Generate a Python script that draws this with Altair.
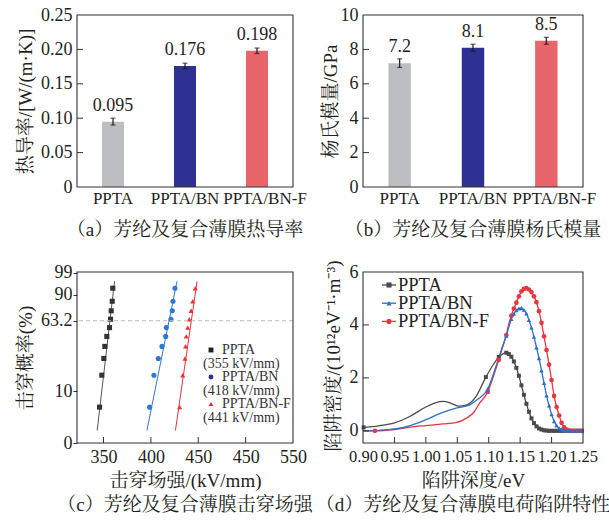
import math
import altair as alt
import pandas as pd

FONT = "Liberation Serif, Noto Serif CJK SC, Noto Sans CJK SC, serif"
INK = "#231f20"
FRAME = "#333333"

# ---------------- data ----------------
cats = ["PPTA", "PPTA/BN", "PPTA/BN-F"]
bar_colors = ["#bdbec2", "#2e3192", "#e8656b"]
tc_vals = [0.095, 0.176, 0.198]
tc_err = [0.005, 0.004, 0.004]
ym_vals = [7.2, 8.1, 8.5]
ym_err = [0.25, 0.2, 0.2]
a_yticks = [0, 0.05, 0.10, 0.15, 0.20, 0.25]
b_yticks = [0, 2, 4, 6, 8, 10]

# (c) Weibull breakdown
c_prob = [6.2, 16.2, 26.0, 35.7, 45.5, 55.2, 65.0, 74.6, 84.4, 94.0]
c_E_ppta = [345.8, 348.2, 350.3, 351.4, 353.5, 356.3, 357.4, 358.1, 359.2, 359.8]
c_E_bn = [398.7, 403.2, 407.8, 411.7, 415.6, 416.3, 421.2, 422.6, 423.3, 425.4]
c_E_bnf = [430.4, 433.6, 436.0, 436.6, 437.3, 438.9, 440.5, 442.4, 444.2, 446.8]
c_fit_prob = [3.0, 97.0]
c_fit_ppta = [343.3, 361.6]
c_fit_bn = [395.8, 427.6]
c_fit_bnf = [425.9, 448.7]
c_xticks = [350, 400, 450, 500, 550]
c_xtick_labels = ["350", "400", "450", "450", "550"]
c_yprob_ticks = [99, 90, 63.2, 10]
c_ybottom_label = "0"
c_ref_prob = 63.2
c_strength = ["(355 kV/mm)", "(418 kV/mm)", "(441 kV/mm)"]

# (d) trap distribution: smooth curve points and marker points
d_ppta_line_x = [0.900, 0.925, 0.950, 0.975, 1.000, 1.015, 1.028, 1.040, 1.053, 1.065, 1.080, 1.0955, 1.110, 1.116, 1.122]
d_ppta_line_y = [0.13, 0.19, 0.30, 0.55, 0.90, 1.06, 1.11, 1.04, 0.93, 0.98, 1.30, 2.03, 2.60, 2.79, 2.90]
d_bn_line_x = [0.900, 0.925, 0.950, 0.975, 1.000, 1.022, 1.048, 1.069, 1.082, 1.0985, 1.109, 1.116, 1.122, 1.128, 1.132]
d_bn_line_y = [0.00, 0.02, 0.07, 0.20, 0.42, 0.65, 0.86, 0.97, 1.18, 1.58, 2.25, 2.75, 3.20, 3.59, 3.92]
d_bnf_line_x = [0.900, 0.919, 0.950, 0.975, 1.000, 1.027, 1.048, 1.064, 1.077, 1.085, 1.0985, 1.108, 1.116, 1.122, 1.128, 1.132]
d_bnf_line_y = [0.00, 0.00, 0.05, 0.14, 0.20, 0.26, 0.31, 0.47, 0.72, 1.03, 1.47, 2.10, 2.68, 3.15, 3.62, 4.05]

d_ppta_sparse_x = [0.901, 1.0955, 1.116]
d_ppta_sparse_y = [0.13, 2.03, 2.79]
d_bn_sparse_x = [1.0985, 1.128]
d_bn_sparse_y = [1.58, 3.59]
d_bnf_sparse_x = [0.919, 1.0985, 1.116, 1.128]
d_bnf_sparse_y = [0.00, 1.47, 2.68, 3.62]

d_ppta_dense_x = [1.128, 1.132, 1.136, 1.140, 1.144, 1.148, 1.152, 1.156, 1.160, 1.164, 1.168,
                  1.172, 1.176, 1.180, 1.184, 1.188, 1.192, 1.196, 1.200, 1.204, 1.208, 1.212,
                  1.216, 1.220, 1.224, 1.228, 1.232, 1.236, 1.240, 1.244, 1.248]
d_ppta_dense_y = [2.95, 2.90, 2.80, 2.62, 2.38, 2.08, 1.72, 1.36, 1.02, 0.72, 0.47,
                  0.29, 0.17, 0.09, 0.05, 0.02, 0.01, 0.00, 0.00, 0.00, 0.00, 0.00,
                  0.00, 0.00, 0.00, 0.00, 0.00, 0.00, 0.00, 0.00, 0.00]
d_bn_dense_x = [1.136, 1.140, 1.144, 1.148, 1.152, 1.156, 1.160, 1.164, 1.168, 1.172, 1.176,
                1.180, 1.184, 1.188, 1.192, 1.196, 1.200, 1.204, 1.208, 1.212, 1.216, 1.220,
                1.224, 1.228, 1.232, 1.236, 1.240, 1.244, 1.248]
d_bn_dense_y = [4.22, 4.42, 4.55, 4.62, 4.64, 4.57, 4.43, 4.18, 3.90, 3.55, 3.15,
                2.74, 2.28, 1.80, 1.33, 0.95, 0.62, 0.36, 0.20, 0.10, 0.05, 0.02,
                0.01, 0.00, 0.00, 0.00, 0.00, 0.00, 0.00]
d_bnf_dense_x = [1.136, 1.140, 1.144, 1.148, 1.152, 1.156, 1.160, 1.164, 1.168, 1.172, 1.176,
                 1.180, 1.184, 1.188, 1.192, 1.196, 1.200, 1.204, 1.208, 1.212, 1.216, 1.220,
                 1.224, 1.228, 1.232, 1.236, 1.240, 1.244, 1.248]
d_bnf_dense_y = [4.35, 4.62, 4.84, 5.08, 5.27, 5.36, 5.39, 5.34, 5.24, 5.08, 4.86,
                 4.52, 4.08, 3.57, 3.05, 2.50, 1.92, 1.32, 0.90, 0.58, 0.30, 0.13,
                 0.05, 0.01, 0.00, 0.00, 0.00, 0.00, 0.00]
d_xticks = [0.90, 0.95, 1.00, 1.05, 1.10, 1.15, 1.20, 1.25]
d_yticks = [0, 2, 4, 6]

captions = ["（a）芳纶及复合薄膜热导率", "（b）芳纶及复合薄膜杨氏模量",
            "（c）芳纶及复合薄膜击穿场强", "（d）芳纶及复合薄膜电荷陷阱特性"]

# ---------------- helpers ----------------
W_L, W_R = 216, 220
H_T, H_B = 172, 171


def one(text):
    return pd.DataFrame({"t": [text]})


def caption_layer(text, w, y, dx=0):
    return alt.Chart(one(text)).mark_text(font=FONT, fontSize=19, color=INK, baseline="middle",
                                          align="center").encode(
        x=alt.value(w / 2 + dx), y=alt.value(y), text="t:N")


def frame_layer(w, h):
    return alt.Chart(one("f")).mark_rect(fill=None, stroke=FRAME, strokeWidth=1.1).encode(
        x=alt.value(0), x2=alt.value(w), y=alt.value(0), y2=alt.value(h))


def bar_panel(vals, errs, fmt, yticks, ytitle, ylabel_expr, cap, w, title_x):
    df = pd.DataFrame({"cat": cats, "v": vals, "lo": [v - e for v, e in zip(vals, errs)],
                       "hi": [v + e for v, e in zip(vals, errs)],
                       "lab": [format(v, fmt) for v in vals]})
    xscale = alt.Scale(domain=cats, paddingInner=0.694, paddingOuter=0.347)
    xax = alt.Axis(title=None, labelAngle=0, ticks=False, tickSize=0, domain=False,
                   labelPadding=3, labelFontSize=17, labelOverlap=False, labelBound=False,
                   labelOffset={"condition": {"test": f"datum.value === '{cats[2]}'", "value": 8},
                                "value": 0})
    ydom = [yticks[0], yticks[-1]]
    yscale = alt.Scale(domain=ydom, nice=False, zero=True)
    yax = alt.Axis(values=yticks, labelExpr=ylabel_expr, title=ytitle, titleX=title_x,
                   titleY=H_T / 2, titleBaseline="middle", titleAngle=270, titleFontSize=19,
                   labelFontSize=18, ticks=False, tickSize=0, labelPadding=5, domain=False, grid=False,
                   labelOverlap=False, labelBound=False, labelFlush=False)

    def X():
        return alt.X("cat:N", sort=cats, scale=xscale, axis=xax)

    def Y(f):
        return alt.Y(f, scale=yscale, axis=yax)

    bars = alt.Chart(df).mark_bar().encode(
        x=X(), y=Y("v:Q"),
        color=alt.Color("cat:N", scale=alt.Scale(domain=cats, range=bar_colors), legend=None))
    err = alt.Chart(df).mark_rule(color="#1a1a1a", strokeWidth=1.2).encode(
        x=X(), y=Y("lo:Q"), y2="hi:Q")
    cap_lo = alt.Chart(df).mark_tick(color="#1a1a1a", size=5, thickness=1.2).encode(x=X(), y=Y("lo:Q"))
    cap_hi = alt.Chart(df).mark_tick(color="#1a1a1a", size=5, thickness=1.2).encode(x=X(), y=Y("hi:Q"))
    labels = alt.Chart(df).mark_text(font=FONT, fontSize=18, color=INK, dy=-16, baseline="middle").encode(
        x=X(), y=Y("v:Q"), text="lab:N")
    ticks = alt.Chart(pd.DataFrame({"t": yticks[1:-1]})).mark_rule(color=FRAME, strokeWidth=1).encode(
        y=Y("t:Q"), x=alt.value(0), x2=alt.value(6))
    return alt.layer(bars, err, cap_lo, cap_hi, labels, ticks, frame_layer(w, H_T),
                     caption_layer(cap, w, H_T + 43)).properties(width=w, height=H_T)


# ---------------- (a) and (b) ----------------
chart_a = bar_panel(tc_vals, tc_err, ".3f", a_yticks, "热导率/[W/(m·K)]",
                    "datum.value == 0 ? '0' : format(datum.value, '.2f')", captions[0], W_L, -52)
chart_b = bar_panel(ym_vals, ym_err, ".1f", b_yticks, "杨氏模量/GPa",
                    "format(datum.value, 'd')", captions[1], W_R, -33)


# ---------------- (c) ----------------
def weib(p):
    return math.log(-math.log(1 - p / 100.0))


c_names = cats
c_pt_colors = ["#333333", "#2d78d2", "#eb3237"]
c_line_colors = ["#555555", "#2d78d2", "#eb3237"]
c_shapes = ["square", "circle", "triangle-up"]

c_ymax = 1.55
c_ymin = -3.89
c_yvals = [weib(p) for p in c_yprob_ticks] + [c_ymin]
c_ylabels = [("63.2" if p == 63.2 else str(int(p))) for p in c_yprob_ticks] + [c_ybottom_label]
c_yexpr = " : ".join(f"abs(datum.value - ({v:.4f})) < 0.01 ? '{l}'" for v, l in zip(c_yvals, c_ylabels)) + " : ''"
c_xexpr = " : ".join(f"datum.value == {v} ? '{l}'" for v, l in zip(c_xticks, c_xtick_labels)) + " : ''"

cx_scale = alt.Scale(domain=[322, 550], nice=False, zero=False)
cy_scale = alt.Scale(domain=[c_ymin, c_ymax], nice=False, zero=False)
cx_ax = alt.Axis(
    values=c_xticks, labelExpr=c_xexpr, title="击穿场强/(kV/mm)", titleFontSize=19,
    titleY=37, titleBaseline="middle", labelFontSize=18, ticks=False, tickSize=0,
    labelPadding=5, domain=False, labelOverlap=False, labelBound=False, labelFlush=False)
cy_ax = alt.Axis(
    values=c_yvals, labelExpr=c_yexpr, title="击穿概率(%)", titleFontSize=19, titleX=-52,
    titleY=H_B / 2, titleBaseline="middle", titleAngle=270, labelFontSize=18, ticks=True,
    tickSize=4, tickColor=FRAME, labelPadding=1, domain=False, labelOverlap=False, labelBound=False,
    labelFlush=False)


def CX(f):
    return alt.X(f, scale=cx_scale, axis=cx_ax)


def CY(f):
    return alt.Y(f, scale=cy_scale, axis=cy_ax)


c_dash = alt.Chart(pd.DataFrame({"r": [weib(c_ref_prob)]})).mark_rule(
    color="#bbbbbb", strokeDash=[4, 3], strokeWidth=1.2).encode(y=CY("r:Q"))
c_layers = []
for i, (name, es, fe) in enumerate(zip(c_names, [c_E_ppta, c_E_bn, c_E_bnf],
                                       [c_fit_ppta, c_fit_bn, c_fit_bnf])):
    fit_df = pd.DataFrame({"E": fe, "u": [weib(p) for p in c_fit_prob]})
    pt_df = pd.DataFrame({"E": es, "u": [weib(p) for p in c_prob]})
    c_layers.append(alt.Chart(fit_df).mark_line(strokeWidth=1, color=c_line_colors[i]).encode(
        x=CX("E:Q"), y=CY("u:Q")))
    c_layers.append(alt.Chart(pt_df).mark_point(filled=True, opacity=1, size=26, shape=c_shapes[i],
                                                color=c_pt_colors[i]).encode(x=CX("E:Q"), y=CY("u:Q")))
c_xt = alt.Chart(pd.DataFrame({"t": c_xticks[:-1]})).mark_rule(color=FRAME, strokeWidth=1).encode(
    x=CX("t:Q"), y=alt.value(H_B), y2=alt.value(H_B - 6))

c_leg_colors = ["#222222", "#2e3192", "#e8262f"]
c_leg = []
for i, name in enumerate(c_names):
    ym = 78 + i * 27
    c_leg.append(alt.Chart(one(name)).mark_point(filled=True, opacity=1, size=24, shape=c_shapes[i],
                                                 color=c_leg_colors[i]).encode(
        x=alt.value(134), y=alt.value(ym)))
    c_leg.append(alt.Chart(one(name)).mark_text(font=FONT, fontSize=14, color="#333333", align="left",
                                                baseline="middle").encode(
        x=alt.value(145), y=alt.value(ym), text="t:N"))
    c_leg.append(alt.Chart(one(c_strength[i])).mark_text(font=FONT, fontSize=14, color="#333333",
                                                         align="left", baseline="middle").encode(
        x=alt.value(126), y=alt.value(ym + 13.5), text="t:N"))

chart_c = alt.layer(*c_layers, c_dash, c_xt, *c_leg, frame_layer(W_L, H_B),
                    caption_layer(captions[2], W_L, H_B + 62)).properties(width=W_L, height=H_B)

# ---------------- (d) ----------------
d_colors = {"PPTA": "#4a4a4a", "PPTA/BN": "#2b70c9", "PPTA/BN-F": "#e8363e"}
d_shape = {"PPTA": "square", "PPTA/BN": "triangle-up", "PPTA/BN-F": "circle"}
d_size = {"PPTA": 16, "PPTA/BN": 20, "PPTA/BN-F": 22}
series = {
    "PPTA": (d_ppta_line_x, d_ppta_line_y, d_ppta_sparse_x, d_ppta_sparse_y, d_ppta_dense_x, d_ppta_dense_y),
    "PPTA/BN": (d_bn_line_x, d_bn_line_y, d_bn_sparse_x, d_bn_sparse_y, d_bn_dense_x, d_bn_dense_y),
    "PPTA/BN-F": (d_bnf_line_x, d_bnf_line_y, d_bnf_sparse_x, d_bnf_sparse_y, d_bnf_dense_x, d_bnf_dense_y),
}
draw_order = ["PPTA", "PPTA/BN-F", "PPTA/BN"]

dx_scale = alt.Scale(domain=[0.90, 1.25], nice=False, zero=False)
dy_scale = alt.Scale(domain=[-0.46, 6.0], nice=False, zero=False)
dx_ax = alt.Axis(
    values=d_xticks, format=".2f", title="陷阱深度/eV", titleFontSize=19, titleY=37,
    titleBaseline="middle", labelFontSize=16.5, ticks=False, tickSize=0, labelPadding=5,
    domain=False, labelOverlap=False, labelBound=False, labelFlush=False)
dy_ax = alt.Axis(
    values=d_yticks, title="陷阱密度/(10¹²eV⁻¹·m⁻³)", titleFontSize=19, titleX=-30,
    titleY=H_B / 2 - 2, titleBaseline="middle", titleAngle=270, labelFontSize=18, ticks=False,
    tickSize=0, labelPadding=5, domain=False, labelOverlap=False, labelBound=False, labelFlush=False)


def DX(f):
    return alt.X(f, scale=dx_scale, axis=dx_ax)


def DY(f):
    return alt.Y(f, scale=dy_scale, axis=dy_ax)


d_layers = []
for name in draw_order:
    lx, ly, sx, sy, mx, my = series[name]
    line_df = pd.DataFrame({"x": lx + mx, "y": ly + my}).sort_values("x")
    d_layers.append(alt.Chart(line_df).mark_line(interpolate="monotone", strokeWidth=1.3,
                                                 color=d_colors[name]).encode(x=DX("x:Q"), y=DY("y:Q")))
for name in draw_order:
    lx, ly, sx, sy, mx, my = series[name]
    mark_df = pd.DataFrame({"x": sx + mx, "y": sy + my})
    d_layers.append(alt.Chart(mark_df).mark_point(filled=True, opacity=1, size=d_size[name],
                                                  shape=d_shape[name], color=d_colors[name]).encode(
        x=DX("x:Q"), y=DY("y:Q")))

d_xt = alt.Chart(pd.DataFrame({"x": d_xticks[1:-1]})).mark_rule(color=FRAME, strokeWidth=1).encode(
    x=DX("x:Q"), y=alt.value(H_B), y2=alt.value(H_B - 6))
d_yt = alt.Chart(pd.DataFrame({"y": d_yticks[:-1]})).mark_rule(color=FRAME, strokeWidth=1).encode(
    y=DY("y:Q"), x=alt.value(0), x2=alt.value(6))

d_leg = []
for i, name in enumerate(cats):
    ym = 13 + i * 18.2
    d_leg.append(alt.Chart(one(name)).mark_rule(color=d_colors[name], strokeWidth=1.3).encode(
        x=alt.value(19), x2=alt.value(33), y=alt.value(ym)))
    d_leg.append(alt.Chart(one(name)).mark_point(filled=True, opacity=1, size=26, shape=d_shape[name],
                                                 color=d_colors[name]).encode(
        x=alt.value(26), y=alt.value(ym)))
    d_leg.append(alt.Chart(one(name)).mark_text(font=FONT, fontSize=18.5, color=INK, align="left",
                                                baseline="middle").encode(
        x=alt.value(35), y=alt.value(ym), text="t:N"))

chart_d = alt.layer(*d_layers, d_xt, d_yt, *d_leg, frame_layer(W_R, H_B),
                    caption_layer(captions[3], W_R, H_B + 62, dx=-10)).properties(width=W_R, height=H_B)

# ---------------- layout ----------------
chart = alt.concat(chart_a, chart_b, chart_c, chart_d, columns=2,
                   spacing={"row": 85, "column": 70}, bounds="flush").properties(
    autosize=alt.AutoSizeParams(type="none"),
    padding={"left": 77, "top": 15, "right": 532, "bottom": 505},
    background="white",
).configure_view(stroke=None).configure_axis(
    labelFont=FONT, titleFont=FONT, labelColor=INK, titleColor=INK, titleFontWeight="normal",
    grid=False, labelOverlap=False, labelFlush=False)

chart.save("out.html", embed_options={"renderer": "svg", "actions": False})
